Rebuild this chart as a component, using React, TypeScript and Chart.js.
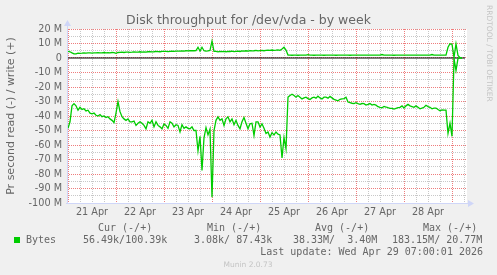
import React, { useEffect, useRef } from "react";
import { Chart, registerables } from "chart.js";

Chart.register(...registerables);

// ---------- data ----------
const chartTitle = "Disk throughput for /dev/vda - by week";
const yAxisTitle = "Pr second read (-) / write (+)";
const dayLabels = ["21 Apr", "22 Apr", "23 Apr", "24 Apr", "25 Apr", "26 Apr", "27 Apr", "28 Apr"];
const yTickValues = [20, 10, 0, -10, -20, -30, -40, -50, -60, -70, -80, -90, -100];
const yTickLabels = ["20 M", "10 M", "0", "-10 M", "-20 M", "-30 M", "-40 M", "-50 M", "-60 M", "-70 M", "-80 M", "-90 M", "-100 M"];

// hourly samples, first sample = 21 Apr 00:00 (hour 0); values in MB/s
const firstSampleHour = 0;
// read (drawn negative)
const readM = [
  -48.5, -44, -33, -31.5, -33, -36, -34, -35.5, -35, -36.5, -36, -38, -38.5, -38, -39.5, -40, -39, -40.5, -40, -41, -40.5, -42, -43, -44.5,
  -38, -30, -37, -40.5, -42, -43, -42, -44, -44, -43.5, -46.5, -45, -44, -45, -46.5, -48.8, -44, -45, -43, -47.5, -44, -46.5, -47.5, -48.8,
  -45.5, -46.5, -48.5, -44, -45, -47.5, -46, -46.5, -51, -46, -48.5, -47.5, -48.5, -48.8, -47.5, -50, -50, -64, -54, -77.6, -55, -48, -53, -49,
  -96, -50, -43, -40.6, -43, -42, -46.5, -42, -40.6, -44, -42, -46, -43, -46.5, -48.8, -44, -41, -45, -48.8, -45.4, -45, -53.4, -44, -44,
  -47.6, -45.4, -48.5, -52, -51, -54.5, -51.5, -53, -51, -52.5, -53, -69, -55, -62.6, -27, -25.9, -25, -25.9, -27, -25.9, -27, -28.2, -27.5, -27,
  -28, -28.6, -27.5, -27, -27.7, -26.3, -27.5, -28.2, -27, -27, -27.7, -26.5, -27.5, -28.5, -29, -29.5, -28.5, -28.2, -28, -27, -30.4, -30.8, -31.2, -31.4,
  -30.8, -31.5, -32, -31.4, -31.5, -32.5, -32, -31.4, -32.5, -32, -32.5, -33.6, -34, -34.3, -33.4, -33.8, -34.3, -34.7, -34.7, -35.2, -34.7, -34.3, -34, -33,
  -34.5, -33, -32, -33, -33.5, -34, -33, -34, -35, -34.5, -34, -32.6, -33.5, -34, -35, -34.5, -34.5, -35.5, -36.4, -35.8, -36, -36, -52, -45,
  -54, -0.5, -8.6, -0.3, -0.1, -0.06,
];
// write (drawn positive)
const writeM = [
  4.5, 4.3, 3.5, 2.8, 2.9, 3.4, 3.2, 3.3, 3.5, 3.4, 3.6, 3.5, 3.4, 3.6, 3.5, 3.7, 3.5, 3.6, 3.8, 3.6, 3.7, 3.6, 3.8, 3.7,
  3.2, 3.8, 3.9, 4.0, 3.8, 4.0, 4.1, 3.9, 4.0, 4.2, 4.0, 4.1, 4.3, 4.0, 4.2, 4.1, 4.3, 4.4, 4.2, 4.3, 4.5, 4.4, 4.3, 4.5,
  4.6, 4.5, 4.4, 4.6, 4.7, 4.6, 4.8, 4.7, 4.8, 4.9, 4.8, 5.0, 4.9, 5.0, 5.1, 5.0, 5.1, 7.4, 4.8, 7.4, 5.0, 4.8, 4.9, 5.2,
  11.6, 4.6, 4.5, 4.2, 4.6, 4.4, 4.5, 4.3, 4.6, 4.5, 4.7, 4.4, 4.6, 4.8, 4.5, 4.9, 4.7, 5.0, 4.8, 5.1, 4.9, 5.0, 5.2, 4.9,
  5.1, 5.3, 5.0, 5.2, 5.4, 5.2, 5.5, 5.3, 5.4, 5.6, 5.3, 6.2, 7.4, 5.5, 2.0, 2.0, 1.9, 2.0, 2.0, 1.9, 2.0, 2.0, 2.0, 2.0,
  2.3, 2.0, 2.0, 1.9, 2.0, 2.0, 2.0, 2.0, 1.9, 2.0, 2.0, 2.0, 2.0, 2.0, 1.9, 2.0, 2.0, 2.0, 2.0, 2.0, 2.0, 1.9, 2.0, 2.0,
  2.0, 2.0, 2.0, 2.0, 2.0, 2.0, 2.0, 2.0, 2.0, 2.0, 2.0, 2.0, 2.0, 2.4, 2.0, 2.0, 2.0, 2.0, 2.0, 1.9, 2.0, 2.0, 2.0, 2.0,
  2.0, 2.0, 2.0, 2.0, 2.0, 2.0, 2.0, 2.0, 2.0, 2.0, 2.0, 2.0, 2.0, 2.0, 2.4, 2.0, 2.0, 2.0, 2.0, 2.0, 2.0, 2.0, 7.4, 9.8,
  9.5, 0.5, 9.8, 1.7, 0.2, 0.1,
];

const legendSeries = "Bytes";
const legendHeaders = ["Cur (-/+)", "Min (-/+)", "Avg (-/+)", "Max (-/+)"];
const legendValues = ["56.49k/100.39k", "3.08k/ 87.43k", "38.33M/  3.40M", "183.15M/ 20.77M"];
const lastUpdate = "Last update: Wed Apr 29 07:00:01 2026";
const watermark = "RRDTOOL / TOBI OETIKER";
const footer = "Munin 2.0.73";

// ---------- style ----------
const GREEN = "#00CC00";
const FONT = "#666666";
const AXIS = "#CFD6F8";
const MAJOR = "rgb(238,125,125)";
const MINOR = "#c8c8c8";
const SANS = '"DejaVu Sans", sans-serif';
const MONO = '"DejaVu Sans Mono", monospace';

const X_MIN = -0.5;
const X_MAX = 199.5;

const xGridHours: number[] = [];
for (let h = 0; h <= X_MAX; h += 6) xGridHours.push(h);
const yGridValues: number[] = [];
for (let v = -100; v <= 20; v += 5) yGridValues.push(v);

const isMajorX = (v: number) => Math.round(v) % 24 === 0;
const isMajorY = (v: number) => Math.round(v) % 10 === 0;

const bgPlugin = {
  id: "muninBg",
  beforeDraw(chart: any) {
    const { ctx, chartArea: a } = chart;
    ctx.save();
    ctx.fillStyle = "#F0F0F0";
    ctx.fillRect(0, 0, chart.width, chart.height);
    ctx.fillStyle = "#FFFFFF";
    ctx.fillRect(a.left, a.top, a.right - a.left, a.bottom - a.top);
    ctx.restore();
  },
};

const overlayPlugin = {
  id: "muninOverlay",
  afterDraw(chart: any) {
    const { ctx, chartArea: a } = chart;
    ctx.save();
    // axes with arrows
    ctx.strokeStyle = AXIS;
    ctx.fillStyle = AXIS;
    ctx.lineWidth = 1;
    ctx.beginPath();
    ctx.moveTo(a.left + 0.5, a.bottom + 1);
    ctx.lineTo(a.left + 0.5, a.top - 4);
    ctx.moveTo(a.left - 1, a.bottom + 0.5);
    ctx.lineTo(a.right + 3, a.bottom + 0.5);
    ctx.stroke();
    ctx.beginPath();
    ctx.moveTo(a.left - 3, a.top - 3);
    ctx.lineTo(a.left + 4, a.top - 3);
    ctx.lineTo(a.left + 0.5, a.top - 9);
    ctx.closePath();
    ctx.fill();
    ctx.beginPath();
    ctx.moveTo(a.right + 1, a.bottom - 3);
    ctx.lineTo(a.right + 1, a.bottom + 4);
    ctx.lineTo(a.right + 7, a.bottom + 0.5);
    ctx.closePath();
    ctx.fill();

    // legend
    ctx.fillStyle = GREEN;
    ctx.fillRect(14, 237, 6, 6);
    ctx.fillStyle = FONT;
    ctx.font = `10px ${MONO}`;
    ctx.textBaseline = "alphabetic";
    ctx.textAlign = "left";
    const headerX = [98, 207, 315, 423];
    const valueX = [83, 194, 293, 392];
    legendHeaders.forEach((t, i) => ctx.fillText(t, headerX[i], 231));
    ctx.fillText(legendSeries, 26, 243);
    legendValues.forEach((t, i) => ctx.fillText(t, valueX[i], 243));
    ctx.textAlign = "right";
    ctx.fillText(lastUpdate, 483, 255);

    // footer
    ctx.textAlign = "center";
    ctx.fillStyle = "#c4c4c4";
    ctx.font = `7.5px ${SANS}`;
    ctx.fillText(footer, 248, 267);

    // watermark
    ctx.translate(488.5, 5);
    ctx.rotate(Math.PI / 2);
    ctx.textAlign = "left";
    ctx.textBaseline = "middle";
    ctx.fillText(watermark, 0, 0);
    ctx.restore();
  },
};

export default function App() {
  const ref = useRef<HTMLCanvasElement | null>(null);

  useEffect(() => {
    if (!ref.current) return;
    const readPts = readM.map((v, i) => ({ x: firstSampleHour + i, y: v }));
    const writePts = writeM.map((v, i) => ({ x: firstSampleHour + i, y: v }));
    const chart = new Chart(ref.current, {
      type: "line",
      data: {
        datasets: [
          { label: "read", data: readPts, borderColor: GREEN, borderWidth: 1.3, pointRadius: 0, tension: 0, fill: false },
          { label: "write", data: writePts, borderColor: GREEN, borderWidth: 1.3, pointRadius: 0, tension: 0, fill: false },
          { label: "zero", data: [{ x: X_MIN, y: 0 }, { x: X_MAX - 1, y: 0 }], borderColor: "#000000", borderWidth: 1.2, pointRadius: 0, fill: false },
        ],
      },
      options: {
        responsive: false,
        animation: false,
        devicePixelRatio: 1,
        layout: { padding: { left: 0, right: 0, top: 0, bottom: 0 } },
        plugins: {
          legend: { display: false },
          tooltip: { enabled: false },
          title: {
            display: true,
            text: chartTitle,
            color: FONT,
            font: { family: SANS, size: 12.5, weight: "normal" },
            padding: { top: 13, bottom: 1 },
          },
        },
        scales: {
          x: {
            type: "linear",
            min: X_MIN,
            max: X_MAX,
            afterBuildTicks: (s: any) => {
              s.ticks = xGridHours.map((v) => ({ value: v }));
            },
            afterFit: (s: any) => {
              s.height = 72;
            },
            ticks: {
              autoSkip: false,
              maxRotation: 0,
              minRotation: 0,
              padding: 4,
              color: FONT,
              font: { family: SANS, size: 9.7 },
              callback: (v: any) => (Math.round(v) % 24 === 12 ? dayLabels[Math.floor(v / 24)] : ""),
            },
            grid: {
              drawTicks: false,
              lineWidth: 1,
              color: (c: any) => (c.tick && isMajorX(c.tick.value) ? MAJOR : MINOR),
            },
            border: { display: false, dash: [1, 1] },
          },
          y: {
            type: "linear",
            position: "left",
            min: -100,
            max: 20,
            afterBuildTicks: (s: any) => {
              s.ticks = yGridValues.map((v) => ({ value: v }));
            },
            afterFit: (s: any) => {
              s.width = 67;
            },
            ticks: {
              autoSkip: false,
              padding: 5,
              color: FONT,
              font: { family: SANS, size: 9.7 },
              callback: (v: any) => {
                const i = yTickValues.indexOf(v);
                return i >= 0 ? yTickLabels[i] : "";
              },
            },
            grid: {
              drawTicks: false,
              lineWidth: 1,
              color: (c: any) => (c.tick && isMajorY(c.tick.value) ? MAJOR : MINOR),
            },
            border: { display: false, dash: [1, 1] },
            title: {
              display: true,
              text: yAxisTitle,
              color: FONT,
              font: { family: SANS, size: 11 },
              padding: { top: 5, bottom: 0 },
            },
          },
          // empty right-hand gutter (rrdtool leaves room for its watermark)
          gutter: {
            type: "linear",
            position: "right",
            display: true,
            min: 0,
            max: 1,
            afterFit: (s: any) => {
              s.width = 30;
            },
            ticks: { display: false },
            grid: { display: false, drawTicks: false },
            border: { display: false },
          },
        },
      },
      plugins: [bgPlugin, overlayPlugin],
    } as any);
    return () => chart.destroy();
  }, []);

  return (
    <div style={{ position: "fixed", left: 0, top: 0, width: 497, height: 275, background: "#F0F0F0" }}>
      <canvas ref={ref} width={497} height={275} style={{ width: 497, height: 275, display: "block" }} />
    </div>
  );
}
